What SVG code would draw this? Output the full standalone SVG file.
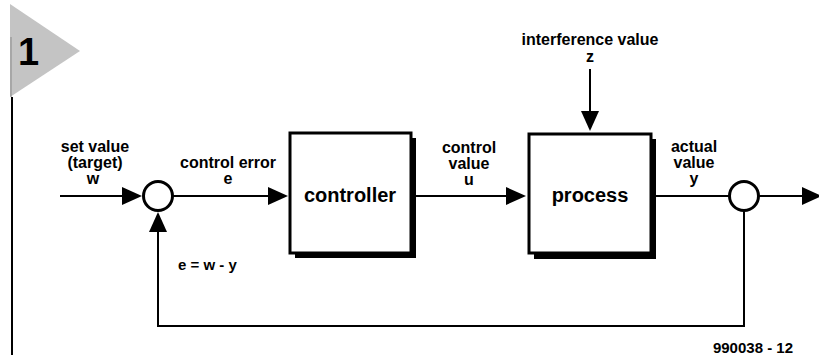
<svg xmlns="http://www.w3.org/2000/svg" width="819" height="361" viewBox="0 0 819 361">
  <style>
    text { font-family: "Liberation Sans", Arial, sans-serif; font-weight: bold; fill: #000; }
    .lbl { font-size: 16px; text-anchor: middle; }
    .big { font-size: 20px; text-anchor: middle; }
    .wire { fill: none; stroke: #000; stroke-width: 2; }
    .box { fill: #fff; stroke: #000; stroke-width: 3; }
    .shadow { fill: #000; }
    .sum { fill: #fff; stroke: #000; stroke-width: 3; }
    .head { fill: #000; }
  </style>

  <!-- figure tab -->
  <g id="figure-tab">
    <polygon points="10,4 80,51 10,97" fill="#c4c4c4"/>
    <line x1="11" y1="37" x2="11" y2="97" stroke="#8a8a8a" stroke-width="1"/>
    <line x1="12" y1="97" x2="12" y2="355" stroke="#000" stroke-width="2"/>
    <text x="18" y="65" font-size="38">1</text>
  </g>

  <!-- connectors -->
  <g id="connectors">
    <!-- set value into summing point -->
    <line class="wire" x1="60" y1="196" x2="125" y2="196"/>
    <polygon class="head" points="122,187 142,196 122,205"/>
    <!-- control error to controller -->
    <line class="wire" x1="173" y1="196" x2="272" y2="196"/>
    <polygon class="head" points="268,187 288,196 268,205"/>
    <!-- control value to process -->
    <line class="wire" x1="412" y1="196" x2="510" y2="196"/>
    <polygon class="head" points="506,187 526,196 506,205"/>
    <!-- interference into process -->
    <line class="wire" x1="590" y1="69" x2="590" y2="115"/>
    <polygon class="head" points="581,111 590,131 599,111"/>
    <!-- actual value to take-off point -->
    <line class="wire" x1="652" y1="196" x2="729" y2="196"/>
    <!-- output -->
    <line class="wire" x1="759" y1="196" x2="805" y2="196"/>
    <polygon class="head" points="802,187 822,196 802,205"/>
    <!-- feedback path -->
    <polyline class="wire" points="744,211 744,326 158,326 158,230"/>
    <polygon class="head" points="149,232 158,212 167,232"/>
  </g>

  <!-- summing point -->
  <g id="sum-point">
    <circle class="sum" cx="158" cy="196" r="14.5"/>
  </g>

  <!-- controller block -->
  <g id="controller">
    <rect class="shadow" x="295" y="138" width="121" height="120"/>
    <rect class="box" x="290" y="133" width="121" height="120"/>
    <text class="big" x="350" y="202">controller</text>
  </g>

  <!-- process block -->
  <g id="process">
    <rect class="shadow" x="534" y="139" width="122" height="120"/>
    <rect class="box" x="529" y="134" width="122" height="119"/>
    <text class="big" x="590" y="202">process</text>
  </g>

  <!-- take-off point -->
  <g id="take-off-point">
    <circle class="sum" cx="744" cy="196" r="14.5"/>
  </g>

  <!-- signal labels -->
  <g id="labels">
    <text class="lbl" x="95" y="152">set value</text>
    <text class="lbl" x="95" y="168">(target)</text>
    <text class="lbl" x="93" y="184">w</text>
    <text class="lbl" x="228" y="168">control error</text>
    <text class="lbl" x="228" y="184">e</text>
    <text class="lbl" x="469" y="153">control</text>
    <text class="lbl" x="469" y="169">value</text>
    <text class="lbl" x="469" y="185">u</text>
    <text class="lbl" x="590" y="45">interference value</text>
    <text class="lbl" x="590" y="62">z</text>
    <text class="lbl" x="694" y="152">actual</text>
    <text class="lbl" x="694" y="168">value</text>
    <text class="lbl" x="694" y="184">y</text>
    <text x="178" y="270" font-size="15">e = w - y</text>
    <text x="793" y="353" font-size="15" text-anchor="end">990038 - 12</text>
  </g>
</svg>
